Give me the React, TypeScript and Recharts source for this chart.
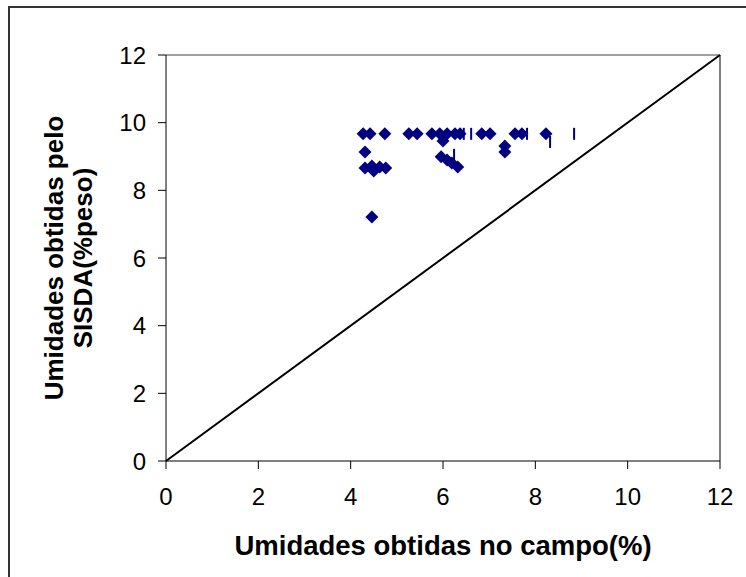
import React from 'react'
import {
  ScatterChart,
  Scatter,
  XAxis,
  YAxis,
  ReferenceLine,
} from 'recharts'

// field moisture (x) vs SISDA moisture (y), % weight
const campoX = [
  4.27, 4.42, 4.74, 5.26, 5.44, 5.76, 5.93, 6.09, 6.26, 6.37, 6.84, 7.02, 7.56, 7.71, 8.23,
  6.0, 4.31, 4.31, 4.46, 4.5, 4.63, 4.76, 5.96, 6.09, 6.19, 6.32, 7.34, 7.34, 4.46,
]
const sisdaY = [
  9.67, 9.67, 9.67, 9.67, 9.67, 9.67, 9.67, 9.67, 9.67, 9.67, 9.67, 9.67, 9.67, 9.67, 9.67,
  9.46, 9.13, 8.66, 8.72, 8.57, 8.69, 8.66, 8.99, 8.9, 8.81, 8.69, 9.31, 9.13, 7.21,
]

// small vertical dash markers
const dashX = [6.45, 6.61, 7.82, 8.84, 8.32, 6.24]
const dashY = [9.67, 9.67, 9.67, 9.67, 9.43, 9.05]

const axisTicks = [0, 2, 4, 6, 8, 10, 12]

const navy = '#000080'
const font = 'Arial, "Liberation Sans", sans-serif'

const diamonds = campoX.map((x, i) => ({ x, y: sisdaY[i] }))
const dashes = dashX.map((x, i) => ({ x, y: dashY[i] }))

function Diamond(props: any) {
  const { cx, cy } = props
  const r = 6.5
  return (
    <polygon
      points={`${cx},${cy - r} ${cx + r},${cy} ${cx},${cy + r} ${cx - r},${cy}`}
      fill={navy}
    />
  )
}

function Dash(props: any) {
  const { cx, cy } = props
  return <rect x={cx - 1} y={cy - 6} width={2} height={12} fill={navy} />
}

export default function App() {
  return (
    <div style={{ position: 'absolute', left: 0, top: 0, width: 746, height: 577, overflow: 'hidden', background: '#fff', fontFamily: font }}>
      <div
        style={{
          position: 'absolute',
          left: 8,
          top: 6,
          width: 780,
          height: 620,
          border: '2px solid #333',
        }}
      />
      <div style={{ position: 'absolute', left: 0, top: 0 }}>
        <ScatterChart width={746} height={577} margin={{ top: 55, right: 26, bottom: 86, left: 126 }}>
          <XAxis
            type="number"
            dataKey="x"
            domain={[0, 12]}
            ticks={axisTicks}
            allowDataOverflow
            stroke="#000"
            tickSize={8}
            tickMargin={19}
            height={30}
            tick={{ fill: '#000', fontSize: 24, fontFamily: font }}
          />
          <YAxis
            type="number"
            dataKey="y"
            domain={[0, 12]}
            ticks={axisTicks}
            allowDataOverflow
            stroke="#000"
            tickSize={8}
            tickMargin={12}
            width={40}
            tick={{ fill: '#000', fontSize: 24, fontFamily: font }}
          />
          <ReferenceLine y={12} stroke="#808080" strokeWidth={1.5} />
          <ReferenceLine x={12} stroke="#000" strokeWidth={1} />
          <ReferenceLine
            segment={[{ x: 0, y: 0 }, { x: 12, y: 12 }]}
            stroke="#000"
            strokeWidth={2}
          />
          <Scatter data={diamonds} shape={<Diamond />} isAnimationActive={false} />
          <Scatter data={dashes} shape={<Dash />} isAnimationActive={false} />
        </ScatterChart>
      </div>
      <div
        style={{
          position: 'absolute',
          left: 443,
          top: 546,
          transform: 'translate(-50%, -50%)',
          fontSize: 27.5,
          fontWeight: 'bold',
          whiteSpace: 'nowrap',
        }}
      >
        Umidades obtidas no campo(%)
      </div>
      <div
        style={{
          position: 'absolute',
          left: 69,
          top: 258,
          transform: 'translate(-50%, -50%) rotate(-90deg)',
          fontSize: 26,
          fontWeight: 'bold',
          whiteSpace: 'nowrap',
          textAlign: 'center',
          lineHeight: '29px',
        }}
      >
        Umidades obtidas pelo
        <br />
        SISDA(%peso)
      </div>
    </div>
  )
}
